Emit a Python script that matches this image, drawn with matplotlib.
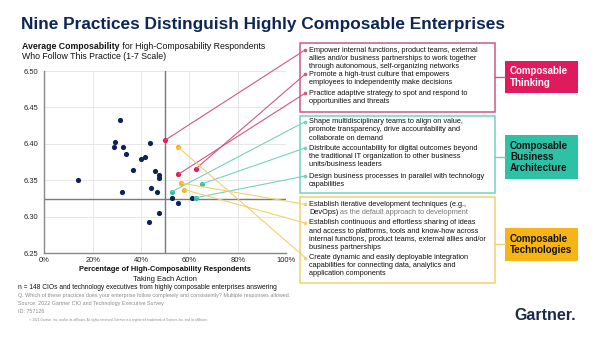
import matplotlib
matplotlib.use("Agg")
import matplotlib.pyplot as plt
from matplotlib.patches import Rectangle, ConnectionPatch
from matplotlib.lines import Line2D

plt.rcParams['font.family'] = ['Liberation Sans', 'DejaVu Sans']

# ---------------- data ----------------
other_x = [0.140, 0.314, 0.293, 0.287, 0.326, 0.340, 0.436, 0.415, 0.401, 0.367,
           0.459, 0.474, 0.475, 0.321, 0.441, 0.467, 0.528, 0.555, 0.613, 0.474, 0.434]
other_y = [6.350, 6.433, 6.402, 6.396, 6.395, 6.386, 6.401, 6.382, 6.379, 6.364,
           6.363, 6.357, 6.353, 6.334, 6.339, 6.334, 6.325, 6.318, 6.326, 6.305, 6.293]

thinking_x = [0.500, 0.628, 0.554]
thinking_y = [6.405, 6.366, 6.358]
thinking_text = [
    "Empower internal functions, product teams, external\nallies and/or business partnerships to work together\nthrough autonomous, self-organizing networks",
    "Promote a high-trust culture that empowers\nemployees to independently make decisions",
    "Practice adaptive strategy to spot and respond to\nopportunities and threats",
]
arch_x = [0.527, 0.653, 0.628]
arch_y = [6.334, 6.345, 6.326]
arch_text = [
    "Shape multidisciplinary teams to align on value,\npromote transparency, drive accountability and\ncollaborate on demand",
    "Distribute accountability for digital outcomes beyond\nthe traditional IT organization to other business\nunits/business leaders",
    "Design business processes in parallel with technology\ncapabilities",
]
tech_x = [0.567, 0.580, 0.555]
tech_y = [6.346, 6.337, 6.395]
tech_text = [
    "Establish iterative development techniques (e.g.,\nDevOps)",
    "Establish continuous and effortless sharing of ideas\nand access to platforms, tools and know-how across\ninternal functions, product teams, external allies and/or\nbusiness partnerships",
    "Create dynamic and easily deployable integration\ncapabilities for connecting data, analytics and\napplication components",
]
tech_grey_tail = " as the default approach to development"

group_labels = ["Composable\nThinking", "Composable\nBusiness\nArchitecture", "Composable\nTechnologies"]

x_ticks = [0, 0.2, 0.4, 0.6, 0.8, 1.0]
x_tick_labels = ["0%", "20%", "40%", "60%", "80%", "100%"]
y_ticks = [6.25, 6.30, 6.35, 6.40, 6.45, 6.50]
y_tick_labels = ["6.25", "6.30", "6.35", "6.40", "6.45", "6.50"]
avg_x = 0.50
avg_y = 6.324

# ---------------- styling ----------------
W, H = 600, 338
NAVY = "#0e2352"
PINK = "#df1a5d"
TEAL = "#2fc1a6"
YELLOW = "#f6b416"
PINK_L = "#d35585"
TEAL_L = "#74d2c1"
YELLOW_L = "#f3cf70"

fig = plt.figure(figsize=(6, 3.38), dpi=100)
fig.patch.set_facecolor("white")


def px(x, y):
    return (x / W, 1 - y / H)


def ftext(x, y, s, **kw):
    return fig.text(x / W, 1 - y / H, s, **kw)


# Title
ftext(21, 25, "Nine Practices Distinguish Highly Composable Enterprises",
      fontsize=12.45, fontweight="bold", color="#0c2657", va="center", ha="left")

# Subtitle
FS_SUB = 6.3
t1 = ftext(22, 46.5, "Average Composability", fontsize=FS_SUB, fontweight="bold",
           color="#111111", va="center")
ftext(22, 56.5, "Who Follow This Practice (1-7 Scale)", fontsize=FS_SUB, color="#111111", va="center")

# Axes
l, r, t, b = 44.3, 286, 71, 253
ax = fig.add_axes([l / W, 1 - b / H, (r - l) / W, (b - t) / H])
ax.set_xlim(0, 1)
ax.set_ylim(6.25, 6.50)
ax.set_xticks(x_ticks)
ax.set_xticklabels(x_tick_labels)
ax.set_yticks(y_ticks)
ax.set_yticklabels(y_tick_labels)
ax.tick_params(length=0, labelsize=5.4, colors="#222222")
ax.tick_params(axis="x", pad=3)
ax.tick_params(axis="y", pad=4.5)
ax.grid(True, color="#e3e3e3", lw=0.6)
ax.set_axisbelow(True)
for s in ["top", "right"]:
    ax.spines[s].set_visible(False)
for s in ["left", "bottom"]:
    ax.spines[s].set_color("#888888")
    ax.spines[s].set_linewidth(1.0)
ax.axvline(avg_x, color="#7a7a7a", lw=1.0, zorder=2)
ax.axhline(avg_y, color="#7a7a7a", lw=1.0, zorder=2)

ax.annotate(" for High-Composability Respondents", xy=(1, 0), xycoords=t1,
            fontsize=FS_SUB, color="#111111", va="bottom", ha="left",
            annotation_clip=False)

ms = 14
ax.scatter(other_x, other_y, s=ms, color=NAVY, zorder=4, linewidths=0)
ax.scatter(thinking_x, thinking_y, s=ms, color=PINK, zorder=4, linewidths=0)
ax.scatter(arch_x, arch_y, s=ms, color=TEAL, zorder=4, linewidths=0)
ax.scatter(tech_x, tech_y, s=ms, color=YELLOW, zorder=4, linewidths=0)

# x label
ftext(165, 269.5, "Percentage of High-Composability Respondents", fontsize=5.4,
      fontweight="bold", color="#111111", ha="center", va="center")
ftext(165, 279.3, "Taking Each Action", fontsize=5.4, color="#111111", ha="center", va="center")

# ---------------- practice boxes ----------------
BOX_X0, BOX_X1 = 300, 495
LAB_X0, LAB_X1 = 505, 578
LINE_H = 8.2
FS_BOX = 5.3

groups = [
    dict(xs=thinking_x, ys=thinking_y, texts=thinking_text, starts=[50, 74.3, 93.3],
         box=(42.7, 111.7), edge=PINK_L, line=PINK_L, lab=(60.7, 93.3), fill=PINK,
         labc="white", conn=76.7),
    dict(xs=arch_x, ys=arch_y, texts=arch_text, starts=[121.7, 148, 176],
         box=(116, 193), edge=TEAL_L, line=TEAL_L, lab=(135, 179), fill=TEAL,
         labc="#111111", conn=157),
    dict(xs=tech_x, ys=tech_y, texts=tech_text, starts=[204.3, 223, 257.5],
         box=(196.5, 283.3), edge=YELLOW_L, line=YELLOW_L, lab=(227.7, 260.7), fill=YELLOW,
         labc="#111111", conn=244),
]

for gi, g in enumerate(groups):
    y0, y1 = g["box"]
    fig.patches.append(Rectangle(px(BOX_X0, y1), (BOX_X1 - BOX_X0) / W, (y1 - y0) / H,
                                 transform=fig.transFigure, fill=False,
                                 edgecolor=g["edge"], lw=1.1, zorder=1))
    ly0, ly1 = g["lab"]
    fig.patches.append(Rectangle(px(LAB_X0, ly1), (LAB_X1 - LAB_X0) / W, (ly1 - ly0) / H,
                                 transform=fig.transFigure, facecolor=g["fill"],
                                 edgecolor="none", zorder=1))
    fig.lines.append(Line2D([BOX_X1 / W, LAB_X0 / W], [1 - g["conn"] / H] * 2,
                            transform=fig.transFigure, color=g["edge"], lw=1.0))
    lab_lines = group_labels[gi].split("\n")
    n = len(lab_lines)
    cy = (ly0 + ly1) / 2
    for k, s in enumerate(lab_lines):
        ftext(LAB_X0 + 5, cy + (k - (n - 1) / 2) * 11.3, s, fontsize=7.0,
              fontweight="bold", color=g["labc"], va="center", ha="left")
    for j, (x, y, txt, ys) in enumerate(zip(g["xs"], g["ys"], g["texts"], g["starts"])):
        lines = txt.split("\n")
        last = None
        for k, s in enumerate(lines):
            last = ftext(309, ys + k * LINE_H, s, fontsize=FS_BOX, color="#111111",
                         va="center", ha="left")
        if gi == 2 and j == 0:
            ax.annotate(tech_grey_tail, xy=(1, 0), xycoords=last, fontsize=FS_BOX,
                        color="#777777", va="bottom", ha="left", annotation_clip=False)
        con = ConnectionPatch(xyA=(x, y), coordsA=ax.transData,
                              xyB=px(305, ys), coordsB=fig.transFigure,
                              color=g["line"], lw=0.8, zorder=3)
        fig.add_artist(con)
        fig.lines.append(Line2D([305 / W], [1 - ys / H], transform=fig.transFigure,
                                marker="o", ms=1.6, color=g["line"], lw=0))

# ---------------- footer ----------------
ftext(18, 287.5, "n = 148 CIOs and technology executives from highly composable enterprises answering",
      fontsize=4.75, color="#111111", va="center")
ftext(18, 296, "Q. Which of these practices does your enterprise follow completely and consistently? Multiple responses allowed.",
      fontsize=3.9, color="#8a8a8a", va="center")
ftext(18, 304, "Source: 2022 Gartner CIO and Technology Executive Survey",
      fontsize=3.9, color="#8a8a8a", va="center")
ftext(18, 311.7, "ID: 757126", fontsize=3.9, color="#8a8a8a", va="center")
ftext(29, 320, "\u00a9 2021 Gartner, Inc. and/or its affiliates. All rights reserved. Gartner is a registered trademark of Gartner, Inc. and its affiliates.",
      fontsize=2.3, color="#8a8a8a", va="center")
ftext(514, 316, "Gartner.", fontsize=11.5, fontweight="bold", color="#1b2a4a",
      va="center", ha="left")

fig.savefig("out.png", dpi=100, facecolor="white")
